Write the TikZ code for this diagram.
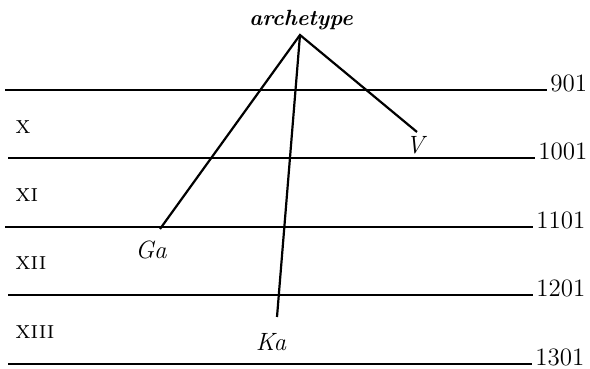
\documentclass[tikz,border=0pt]{standalone}
\usetikzlibrary{positioning}
\begin{document}
\begin{tikzpicture}[
  x=0.5pt,y=0.5pt,
  rule/.style={draw=black,line width=0.9pt},
  stem/.style={draw=black,line width=1.1pt},
  year/.style={font=\fontsize{12.5}{14}\selectfont,anchor=base west,inner sep=0pt},
  cent/.style={font=\fontsize{12.5}{14}\selectfont\scshape,anchor=west,inner sep=0pt},
  wit/.style={font=\fontsize{12.5}{14}\selectfont\itshape,inner sep=0pt}]
  \useasboundingbox (0,0) rectangle (590,369);

  % century rules, year at the right end
  \foreach \name/\y/\xa/\xb/\yr in {
    a/279/5/547/901,
    b/211/8/535/1001,
    c/142/5/533/1101,
    d/74/8/533/1201,
    e/5/8/532/1301}
  {
    \coordinate (l-\name) at (\xa,\y);
    \coordinate (r-\name) at (\xb,\y);
    \draw[rule] (l-\name) -- (r-\name);
    \node[year,xshift=1.5pt,yshift=-1pt] (yr-\name) at (r-\name) {\yr};
  }

  % centuries
  \node[cent] (c10) at (15,242) {x};
  \node[cent] (c11) at (15,174) {xi};
  \node[cent] (c12) at (15,106) {xii};
  \node[cent] (c13) at (15,37) {xiii};

  % stemma
  \node[font=\fontsize{11}{13}\selectfont\bfseries\itshape,inner sep=0pt]
    (arch) at (301,349) {archetype};
  \coordinate (top) at (300,334);
  \coordinate (v-end) at (417,237);
  \coordinate (ga-end) at (160,140);
  \coordinate (ka-end) at (277,52);
  \node[wit] (v) at (415,224) {V};
  \node[wit] (ga) at (151,119) {Ga};
  \node[wit] (ka) at (271,27) {Ka};
  \draw[stem] (v-end) -- (top) -- (ga-end);
  \draw[stem] (top) -- (ka-end);
\end{tikzpicture}
\end{document}
